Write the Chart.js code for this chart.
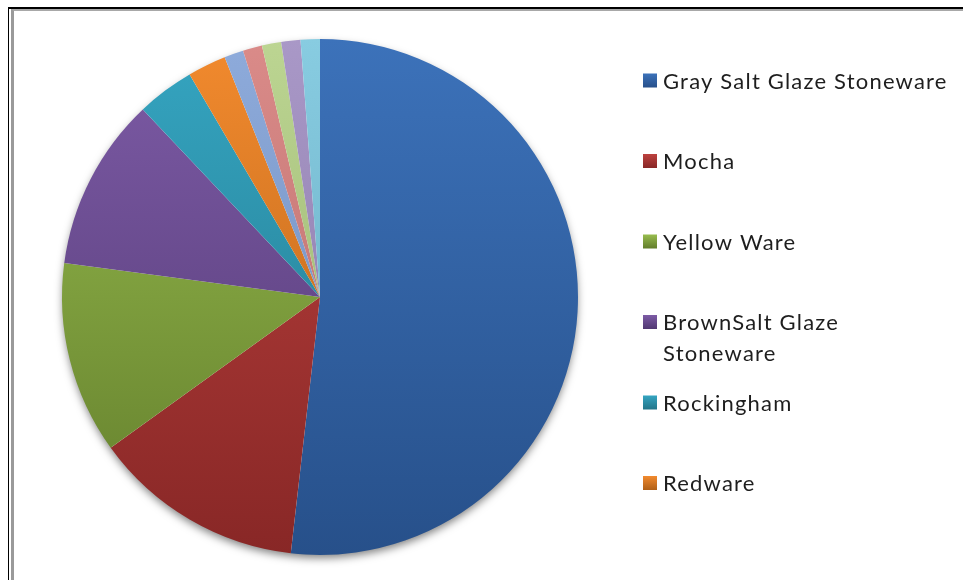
<!DOCTYPE html>
<html>
<head>
<meta charset="utf-8">
<script src="https://cdn.jsdelivr.net/npm/chart.js@4/dist/chart.umd.min.js"></script>
<style>
    html, body { margin: 0; padding: 0; background: #fff; }
    #wrap { position: relative; width: 963px; height: 580px; overflow: hidden; }
    #frame { position: absolute; left: 8px; top: 7px; right: -20px; bottom: -20px;
             border-left: 1px solid #000; border-top: 2px solid #000; pointer-events: none; }
    #frame2 { position: absolute; left: 11px; top: 9px; right: -20px; bottom: -20px;
              border-left: 3px solid #9a9a9a; border-top: 2px solid #a8a8a8; pointer-events: none; }
    canvas { position: absolute; left: 0; top: 0; }
</style>
</head>
<body>
<div id="wrap">
    <canvas id="pieChart" width="963" height="580"></canvas>
    <div id="frame"></div>
    <div id="frame2"></div>
</div>
<script>
// Chart data
const categories = ['Gray Salt Glaze Stoneware', 'Mocha', 'Yellow Ware', ['BrownSalt Glaze', 'Stoneware'],
    'Rockingham', 'Redware', 'Creamware', 'Pearlware', 'Whiteware', 'Porcelain', 'Ironstone'];
const counts = [43, 11, 10, 9, 3, 2, 1, 1, 1, 1, 1];
const topColors = ['#3c72ba', '#bd423f', '#98bd4f', '#7d5ba6', '#35a5c1', '#f28a2e',
    '#8eabdb', '#da8b89', '#bcd592', '#a998c7', '#88cce1'];
const bottomColors = ['#27508a', '#882726', '#627d2b', '#513872', '#227589', '#b06017',
    '#6b88b7', '#b56866', '#93ad69', '#8675a5', '#63a7bd'];
const legendShown = 6;

// Vertical gradient per slice, light on top and dark below
const gradCache = {};
function sliceGradient(ctx, i, top, bottom) {
    const key = i + ':' + top + ':' + bottom;
    if (!gradCache[key]) {
        const g = ctx.createLinearGradient(0, top, 0, bottom);
        g.addColorStop(0, topColors[i]);
        g.addColorStop(1, bottomColors[i]);
        gradCache[key] = g;
    }
    return gradCache[key];
}

// Soft shadow under the whole pie
const pieShadow = {
    id: 'pieShadow',
    beforeDatasetsDraw(chart) {
        const arc = chart.getDatasetMeta(0).data[0];
        if (!arc) return;
        const c = chart.ctx;
        c.save();
        c.shadowColor = 'rgba(0,0,0,0.5)';
        c.shadowBlur = 8;
        c.shadowOffsetY = 4;
        c.fillStyle = '#fff';
        c.beginPath();
        c.arc(arc.x, arc.y, arc.outerRadius - 1, 0, Math.PI * 2);
        c.fill();
        c.restore();
    }
};

// Legend drawn like the original, only the entries that fit
const sideLegend = {
    id: 'sideLegend',
    afterDraw(chart) {
        const c = chart.ctx;
        const boxX = 643, textX = 663, startY = 80.5, step = 80.5, box = 14;
        c.save();
        c.font = '22px Lato';
        c.letterSpacing = '1.2px';
        c.textBaseline = 'middle';
        for (let i = 0; i < legendShown; i++) {
            const cy = startY + step * i;
            const g = c.createLinearGradient(0, cy - box / 2, 0, cy + box / 2);
            g.addColorStop(0, topColors[i]);
            g.addColorStop(1, bottomColors[i]);
            c.fillStyle = g;
            c.fillRect(boxX, cy - box / 2, box, box);
            c.fillStyle = '#1e1e1e';
            const lines = Array.isArray(categories[i]) ? categories[i] : [categories[i]];
            lines.forEach((t, k) => c.fillText(t, textX, cy + 1 + k * 31));
        }
        c.restore();
    }
};

document.addEventListener('DOMContentLoaded', () => {
    new Chart(document.getElementById('pieChart'), {
        type: 'pie',
        data: {
            labels: categories,
            datasets: [{
                data: counts,
                borderWidth: 0,
                backgroundColor: (ctx) => {
                    const area = ctx.chart.chartArea;
                    if (!area) return topColors[ctx.dataIndex];
                    return sliceGradient(ctx.chart.ctx, ctx.dataIndex, area.top, area.bottom);
                }
            }]
        },
        options: {
            responsive: false,
            animation: false,
            rotation: 0,
            layout: { padding: { left: 62, right: 385, top: 39, bottom: 25 } },
            plugins: {
                legend: { display: false },
                tooltip: { enabled: false }
            }
        },
        plugins: [pieShadow, sideLegend]
    });
});
</script>
</body>
</html>
